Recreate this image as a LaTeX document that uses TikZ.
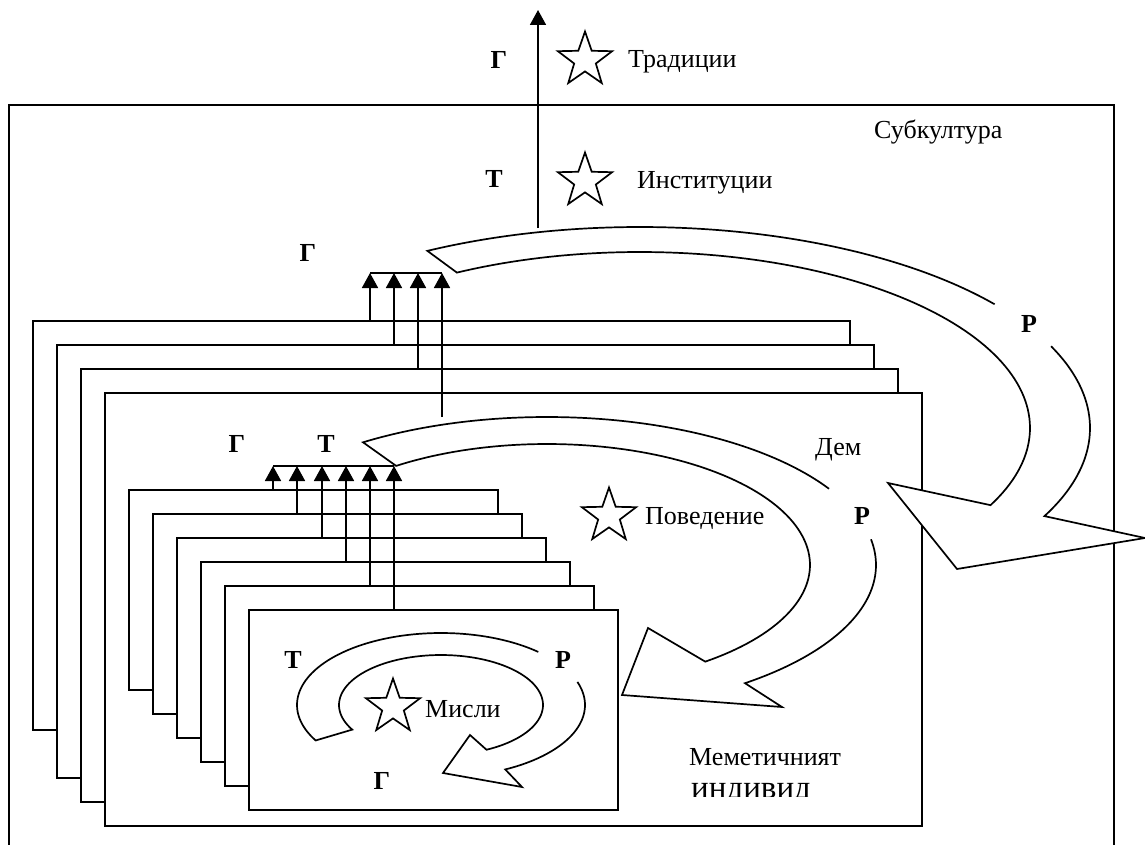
\documentclass[tikz,border=0pt]{standalone}
\usepackage{fontspec}
\setmainfont{Liberation Serif}
\usetikzlibrary{arrows.meta,shapes.geometric}
\tikzset{
  ln/.style={line width=1.7pt},
  boxr/.style={draw, line width=1.7pt, fill=white, inner sep=0pt, outer sep=0pt, anchor=north west},
  shp/.style={line width=1.7pt, line join=miter, miter limit=20},
  uparr/.style={line width=1.7pt, -{Triangle[length=15pt,width=16pt]}},
  lbl/.style={font=\fontsize{26}{30}\selectfont\bfseries, anchor=base, inner sep=0pt},
  txt/.style={font=\fontsize{26}{30}\selectfont, anchor=base west, inner sep=0pt},
  starn/.style={star, star points=5, star point ratio=2.5, draw, line width=1.7pt, minimum size=57pt, inner sep=0pt, outer sep=0pt},
}
\begin{document}
\begin{tikzpicture}[x=1pt,y=-1pt]
\useasboundingbox (0,0) rectangle (1145,845);
\clip (0,0) rectangle (1145,845);
\fill[white] (0,0) rectangle (1145,845);
% Subculture frame
\node[boxr, minimum width=1105pt, minimum height=800pt] (sub) at (9,105) {};
% deme stack
\node[boxr, minimum width=817pt, minimum height=409pt] (d0) at (33,321) {};
\node[boxr, minimum width=817pt, minimum height=433pt] (d1) at (57,345) {};
\node[boxr, minimum width=817pt, minimum height=433pt] (d2) at (81,369) {};
\node[boxr, minimum width=817pt, minimum height=433pt] (d3) at (105,393) {};
% individual stack
\foreach \i in {0,...,5}
  \node[boxr, minimum width=369pt, minimum height=200pt] (m\i) at ({129+24*\i},{490+24*\i}) {};

% big curved arrow (subculture level)
\fill[white] plot[domain=118.2:-26,samples=100] ({640+450*cos(\x)},{428-201*sin(\x)})
  -- (1145,538) -- (957,569) -- (888,483)
  -- plot[domain=-26:118,samples=100] ({640+390*cos(\x)},{428-176*sin(\x)}) -- cycle;
\draw[shp] plot[domain=24:-26,samples=60] ({640+450*cos(\x)},{428-201*sin(\x)})
  -- (1145,538) -- (957,569) -- (888,483)
  -- plot[domain=-26:118,samples=100] ({640+390*cos(\x)},{428-176*sin(\x)})
  -- plot[domain=118.2:38,samples=80] ({640+450*cos(\x)},{428-201*sin(\x)});

% deme curved arrow
\fill[white] plot[domain=124:-53,samples=100] ({547+329*cos(\x)},{565-148*sin(\x)})
  -- (782,707) -- (622,695) -- (648,628)
  -- plot[domain=-53:125,samples=100] ({547+263*cos(\x)},{565-121*sin(\x)}) -- cycle;
\draw[shp] plot[domain=10:-53,samples=50] ({547+329*cos(\x)},{565-148*sin(\x)})
  -- (782,707) -- (622,695) -- (648,628)
  -- plot[domain=-53:125,samples=100] ({547+263*cos(\x)},{565-121*sin(\x)})
  -- plot[domain=124:31,samples=80] ({547+329*cos(\x)},{565-148*sin(\x)});

% individual curved arrow
\fill[white] plot[domain=209.5:-63.5,samples=100] ({441+144*cos(\x)},{705-72*sin(\x)})
  -- (522,787) -- (443,773) -- (470,735)
  -- plot[domain=-63.5:209.5,samples=100] ({441+102*cos(\x)},{705-50*sin(\x)}) -- cycle;
\draw[shp] plot[domain=18.7:-63.5,samples=50] ({441+144*cos(\x)},{705-72*sin(\x)})
  -- (522,787) -- (443,773) -- (470,735)
  -- plot[domain=-63.5:209.5,samples=100] ({441+102*cos(\x)},{705-50*sin(\x)})
  -- plot[domain=209.5:47.5,samples=80] ({441+144*cos(\x)},{705-72*sin(\x)});

% upward arrows, deme stack
\coordinate (bt0) at (370,273);
\coordinate (bt1) at (394,273);
\coordinate (bt2) at (418,273);
\coordinate (bt3) at (442,273);
\coordinate (ds) at (442,417);
\draw[ln] (bt0) -- (bt3);
\draw[uparr] (d0.north -| bt0) -- (bt0);
\draw[uparr] (d1.north -| bt1) -- (bt1);
\draw[uparr] (d2.north -| bt2) -- (bt2);
\draw[uparr] (ds) -- (bt3);
% upward arrows, individual stack
\foreach \i/\xx in {0/273,1/297,2/322,3/346,4/370,5/394}
  \coordinate (it\i) at (\xx,466);
\draw[ln] (it0) -- (it5);
\foreach \i in {0,...,5}
  \draw[uparr] (m\i.north -| it\i) -- (it\i);
% top arrow
\coordinate (tstart) at (538,228);
\coordinate (ttip) at (538,10);
\draw[uparr] (tstart) -- (ttip);

% stars
\node[starn] (s1) at (585,60) {};
\node[starn] (s2) at (585,181) {};
\node[starn] (s3) at (609,516) {};
\node[starn] (s4) at (393,707) {};

% labels
\node[lbl] (g1) at (499,69) {Г};
\node[lbl] (t1) at (494,188) {Т};
\node[txt] (trad) at (628,68) {Традиции};
\node[txt] (inst) at (637,189) {Институции};
\node[txt] (subk) at (874,139) {Субкултура};
\node[lbl] (g2) at (308,261) {Г};
\node[lbl] (r1) at (1029,332) {Р};
\node[lbl] (g3) at (237,452) {Г};
\node[lbl] (t3) at (326,452) {Т};
\node[txt] (dem) at (815,455) {Дем};
\node[txt] (pov) at (645,524) {Поведение};
\node[lbl] (r2) at (862,524) {Р};
\node[lbl] (t4) at (293,668) {Т};
\node[lbl] (r4) at (563,668) {Р};
\node[txt] (misli) at (425,717) {Мисли};
\node[lbl] (g4) at (382,789) {Г};
\node[txt] (mem) at (689,765) {Меметичният};
\begin{scope}
\clip (600,770) rectangle (900,796.5);
\node[txt, font=\fontsize{33}{38}\selectfont] (ind) at (691,798) {индивид};
\end{scope}
\end{tikzpicture}
\end{document}
